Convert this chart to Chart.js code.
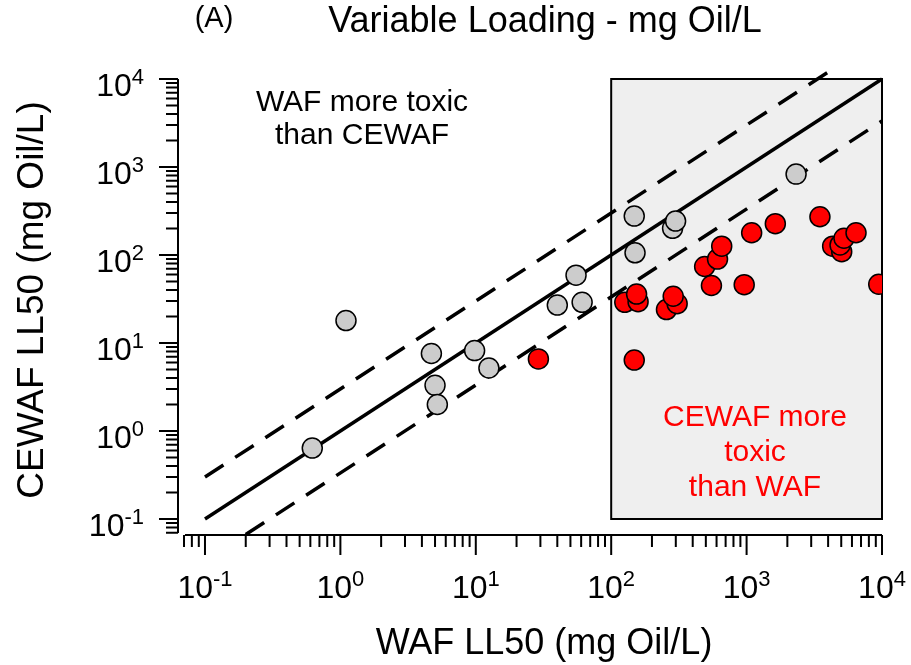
<!DOCTYPE html>
<html>
<head>
<meta charset="utf-8">
<title>Variable Loading - mg Oil/L</title>
<script src="https://cdn.jsdelivr.net/npm/chart.js@4.4.1/dist/chart.umd.min.js"></script>
<style>
  html, body { margin: 0; padding: 0; background: #fff; }
  #chart { display: block; }
</style>
</head>
<body>
<canvas id="chart" width="911" height="665"></canvas>
<script>
  // WAF LL50 (x) vs CEWAF LL50 (y), mg Oil/L
  const wafGray   = [0.62, 1.1, 4.7, 5.0, 5.2, 9.8, 12.5, 40, 61, 55, 148, 150, 284, 299, 2320];
  const cewafGray = [0.64, 18, 7.6, 3.3, 2.0, 8.2, 5.2, 27, 29, 59, 277, 106, 201, 243, 830];

  const wafRed   = [29, 126, 158, 154, 148, 256, 307, 287, 490, 610, 655, 550, 960, 1090, 1630, 3480, 4320, 5040, 4900, 5240, 6430, 9460];
  const cewafRed = [6.6, 29, 29.5, 36, 6.4, 24, 28, 34, 74, 90, 126, 45, 46, 179, 227, 272, 126, 109, 130, 155, 179, 46.5];

  // 1:1 line and the 3-fold band
  const oneX   = [0.1, 10000];
  const oneY   = [0.1, 10000];
  const upperX = [0.1, 4300];
  const upperY = [0.3, 12900];
  const lowerX = [0.2, 10000];
  const lowerY = [0.0667, 3333];

  // shaded region: WAF 10^2..10^4, CEWAF 10^-1..10^4
  const boxX = [100, 10000];
  const boxY = [0.1, 10000];

  const xTickExps = [-1, 0, 1, 2, 3, 4];
  const yTickExps = [-1, 0, 1, 2, 3, 4];

  const FONT = '"Liberation Sans", Arial, Helvetica, sans-serif';

  function pts(xs, ys) {
    return xs.map(function (x, i) { return { x: x, y: ys[i] }; });
  }

  function drawPow(ctx, exp, x, baseline, align) {
    ctx.font = '32px ' + FONT;
    const w1 = ctx.measureText('10').width;
    ctx.font = '22px ' + FONT;
    const w2 = ctx.measureText(String(exp)).width;
    let left;
    if (align === 'center') left = x - (w1 + w2) / 2;
    else left = x - (w1 + w2);
    ctx.textAlign = 'left';
    ctx.textBaseline = 'alphabetic';
    ctx.font = '32px ' + FONT;
    ctx.fillText('10', left, baseline);
    ctx.font = '22px ' + FONT;
    ctx.fillText(String(exp), left + w1, baseline - 12);
  }

  // Background box, axes, ticks and text
  const decor = {
    id: 'decor',
    beforeDatasetsDraw(chart) {
      const ctx = chart.ctx;
      const xs = chart.scales.x, ys = chart.scales.y;
      const x0 = xs.getPixelForValue(boxX[0]), x1 = xs.getPixelForValue(boxX[1]);
      const y0 = ys.getPixelForValue(boxY[1]), y1 = ys.getPixelForValue(boxY[0]);
      ctx.save();
      ctx.fillStyle = '#efefef';
      ctx.fillRect(x0, y0, x1 - x0, y1 - y0);
      ctx.lineWidth = 2;
      ctx.strokeStyle = '#000';
      ctx.strokeRect(x0, y0, x1 - x0, y1 - y0);
      ctx.restore();
    },
    afterDraw(chart) {
      const ctx = chart.ctx;
      const xs = chart.scales.x, ys = chart.scales.y;
      const area = chart.chartArea;
      const axisY = area.bottom;       // x axis line
      const axisX = area.left;         // y axis line
      ctx.save();
      ctx.strokeStyle = '#000';
      ctx.fillStyle = '#000';
      ctx.lineWidth = 2;

      // axis lines (offset, they do not meet)
      ctx.beginPath();
      ctx.moveTo(axisX + 7, axisY);
      ctx.lineTo(area.right, axisY);
      ctx.moveTo(axisX, area.top);
      ctx.lineTo(axisX, axisY - 2);
      ctx.stroke();

      // log ticks
      ctx.beginPath();
      for (let d = -2; d <= 4; d++) {
        for (let m = 1; m <= 9; m++) {
          const v = m * Math.pow(10, d);
          const px = xs.getPixelForValue(v);
          if (px >= axisX + 6 && px <= area.right + 1) {
            ctx.moveTo(px, axisY);
            ctx.lineTo(px, axisY + (m === 1 ? 20 : 12));
          }
          const py = ys.getPixelForValue(v);
          if (py >= area.top - 1 && py <= axisY - 1) {
            ctx.moveTo(axisX, py);
            ctx.lineTo(axisX - (m === 1 ? 19 : 12), py);
          }
        }
      }
      ctx.stroke();

      // tick labels
      xTickExps.forEach(function (e) {
        drawPow(ctx, e, xs.getPixelForValue(Math.pow(10, e)), 598, 'center');
      });
      yTickExps.forEach(function (e) {
        drawPow(ctx, e, 144, ys.getPixelForValue(Math.pow(10, e)) + 17, 'right');
      });

      // axis titles
      ctx.textAlign = 'center';
      ctx.textBaseline = 'middle';
      ctx.font = '36px ' + FONT;
      ctx.fillText('WAF LL50 (mg Oil/L)', 544, 644);
      ctx.save();
      ctx.translate(33, 300);
      ctx.rotate(-Math.PI / 2);
      ctx.font = '37px ' + FONT;
      ctx.fillText('CEWAF LL50 (mg Oil/L)', 0, 0);
      ctx.restore();

      // title
      ctx.font = '36px ' + FONT;
      ctx.fillText('Variable Loading - mg Oil/L', 545, 22);
      ctx.font = '29px ' + FONT;
      ctx.fillText('(A)', 214, 19);

      // region notes
      ctx.font = '30px ' + FONT;
      ctx.fillText('WAF more toxic', 362, 103);
      ctx.fillText('than CEWAF', 362, 136);
      ctx.fillStyle = '#ff0000';
      ctx.fillText('CEWAF more', 755, 418);
      ctx.fillText('toxic', 755, 453);
      ctx.fillText('than WAF', 755, 488);
      ctx.restore();
    }
  };

  const ctx = document.getElementById('chart').getContext('2d');
  const myChart = new Chart(ctx, {
    type: 'scatter',
    data: {
      datasets: [
        {
          label: 'WAF more toxic',
          data: pts(wafGray, cewafGray),
          backgroundColor: '#cccccc',
          borderColor: '#000',
          borderWidth: 1.5,
          pointRadius: 10,
          order: 1
        },
        {
          label: 'CEWAF more toxic',
          data: pts(wafRed, cewafRed),
          backgroundColor: '#ff0000',
          borderColor: '#000',
          borderWidth: 1.5,
          pointRadius: 10,
          order: 2
        },
        {
          type: 'line',
          label: '1:1',
          data: pts(oneX, oneY),
          borderColor: '#000',
          borderWidth: 3.5,
          pointRadius: 0,
          fill: false,
          clip: false,
          order: 5
        },
        {
          type: 'line',
          label: '3x',
          data: pts(upperX, upperY),
          borderColor: '#000',
          borderWidth: 3.5,
          borderDash: [22, 14],
          pointRadius: 0,
          fill: false,
          clip: false,
          order: 6
        },
        {
          type: 'line',
          label: '1/3x',
          data: pts(lowerX, lowerY),
          borderColor: '#000',
          borderWidth: 3.5,
          borderDash: [22, 14],
          pointRadius: 0,
          fill: false,
          clip: false,
          order: 7
        }
      ]
    },
    options: {
      responsive: false,
      animation: false,
      layout: {
        padding: { left: 178, right: 29, top: 79, bottom: 130 }
      },
      scales: {
        x: {
          type: 'logarithmic',
          display: false,
          min: 0.0632,
          max: 10000
        },
        y: {
          type: 'logarithmic',
          display: false,
          min: 0.0658,
          max: 10000
        }
      },
      plugins: {
        legend: { display: false },
        tooltip: { enabled: false }
      }
    },
    plugins: [decor]
  });
</script>
</body>
</html>
